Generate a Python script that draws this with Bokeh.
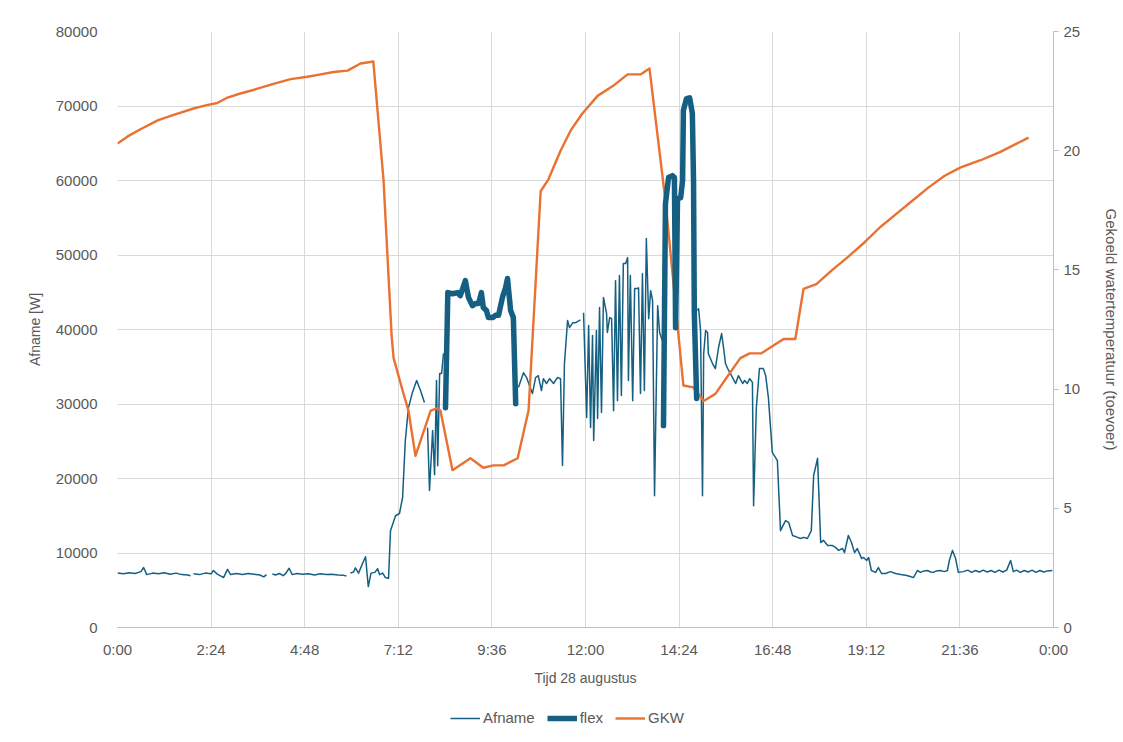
import math
from bokeh.plotting import figure
from bokeh.layouts import column
from bokeh.models import Range1d, LinearAxis, FixedTicker, Legend, LegendItem, NumeralTickFormatter
from bokeh.embed import file_html
from bokeh.resources import INLINE

nan = float("nan")

# ---------------- data (time in hours of 28 August) ----------------
x_ticks = [0, 2.4, 4.8, 7.2, 9.6, 12.0, 14.4, 16.8, 19.2, 21.6, 24.0]
x_tick_labels = ["0:00", "2:24", "4:48", "7:12", "9:36", "12:00", "14:24", "16:48", "19:12", "21:36", "0:00"]
y_ticks = [0, 10000, 20000, 30000, 40000, 50000, 60000, 70000, 80000]
y2_ticks = [0, 5, 10, 15, 20, 25]

# Afname [W] (nan = gap in the measurement)
afname_t = (
    [0.00, 0.15, 0.30, 0.45, 0.60, 0.67, 0.75, 0.90, 1.05, 1.20, 1.35, 1.50, 1.65, 1.80, 1.87, 1.91]
    + [1.95, 2.10, 2.25, 2.40, 2.46, 2.55, 2.72, 2.82, 2.90, 3.05, 3.20, 3.35, 3.50, 3.65, 3.75, 3.82, 3.90]
    + [3.97, 4.05, 4.15, 4.25, 4.32, 4.40, 4.48, 4.60, 4.75, 4.90, 5.05, 5.20, 5.35, 5.50, 5.65, 5.80, 5.87, 5.92]
    + [5.97, 6.05, 6.10, 6.18, 6.30, 6.36, 6.43, 6.50, 6.60, 6.67, 6.72, 6.80, 6.87, 6.95, 7.00, 7.13,
       7.23, 7.31, 7.38, 7.46, 7.56, 7.67, 7.77, 7.87, 7.91]
    + [7.95, 8.00, 8.08, 8.13, 8.18, 8.21, 8.26, 8.31, 8.36, 8.38]
    + [10.28, 10.41, 10.49, 10.56, 10.64, 10.72, 10.79, 10.87, 10.92, 11.00, 11.08, 11.18, 11.28, 11.36,
       11.41, 11.46, 11.54, 11.59, 11.67, 11.74, 11.87, 11.91]
    + [11.95, 12.03, 12.08, 12.13, 12.18, 12.21, 12.28, 12.31, 12.36, 12.41, 12.46, 12.54, 12.56, 12.62,
       12.67, 12.72, 12.77, 12.82, 12.87, 12.92, 12.97, 13.03, 13.08, 13.10, 13.15, 13.21, 13.26, 13.33,
       13.36, 13.41, 13.46, 13.51, 13.56, 13.62, 13.67, 13.72, 13.77, 13.85, 13.90, 13.97, 13.99]
    + [14.87, 14.90, 14.95, 15.00, 15.03, 15.08, 15.13, 15.15, 15.26, 15.33,
       15.41, 15.49, 15.54, 15.59, 15.67, 15.77, 15.85, 15.92, 16.03, 16.08,
       16.15, 16.21, 16.28, 16.31, 16.38, 16.46, 16.56, 16.62, 16.69, 16.79,
       16.92, 17.00, 17.13, 17.21, 17.31, 17.44, 17.51, 17.59, 17.69, 17.79,
       17.85, 17.95, 18.03, 18.10, 18.21, 18.33, 18.41, 18.49, 18.59, 18.64,
       18.74, 18.82, 18.90, 18.97, 19.08, 19.13, 19.21, 19.26, 19.33, 19.44,
       19.51, 19.59, 19.69, 19.82, 19.95, 20.08, 20.21, 20.33, 20.41, 20.51,
       20.59, 20.68, 20.77, 20.85, 20.92, 21.00, 21.10, 21.20, 21.28, 21.33,
       21.41, 21.49, 21.56, 21.69, 21.80, 21.90, 22.00, 22.10, 22.20, 22.30,
       22.40, 22.50, 22.60, 22.70, 22.80, 22.90, 22.97, 23.05, 23.15, 23.25,
       23.35, 23.45, 23.55, 23.65, 23.75, 23.85, 23.97]
)
afname_w = (
    [7300, 7200, 7350, 7250, 7500, 8050, 7100, 7300, 7200, 7350, 7150, 7300, 7100, 7050, 6950, nan]
    + [7200, 7100, 7300, 7200, 7650, 7200, 6700, 7800, 7100, 7250, 7100, 7250, 7150, 7050, 6800, 7100, nan]
    + [7200, 7050, 7250, 6950, 7300, 7950, 7100, 7250, 7150, 7200, 7050, 7200, 7100, 7150, 7050, 7000, 6900, nan]
    + [7300, 7450, 8000, 7300, 8800, 9500, 5500, 7300, 7400, 7900, 7100, 7300, 6700, 6600, 13000, 15000,
       15300, 17450, 25100, 29500, 31500, 33150, 31800, 30200, nan]
    + [26800, 18400, 26450, 20500, 33150, 21700, 34100, 34100, 36800, nan]
    + [32200, 34200, 33550, 32500, 31400, 33550, 33800, 31800, 33400, 32750, 33400, 32750, 33550, 33400,
       21750, 35400, 41200, 40250, 40900, 40900, 41300, nan]
    + [42250, 28200, 40550, 26850, 39200, 25100, 39850, 28050, 42950, 28850, 44300, 42150, 39600, 41600,
       41450, 29100, 46550, 30450, 47250, 31150, 48850, 48850, 49650, 33150, 47250, 30450, 45500, 45500,
       45600, 31400, 47500, 31800, 52200, 41450, 45200, 43900, 17700, 43200, 39600, 38500, nan]
    + [42550, 42800, 39850, 17700, 36750, 39850, 39600, 36750, 35400, 34750,
       37550, 39450, 37550, 35400, 34500, 33550, 32750, 33800, 32750, 33150,
       32750, 33400, 32900, 16350, 29500, 34750, 34750, 33800, 30850, 23500,
       22400, 13000, 14350, 14100, 12350, 12100, 11950, 12100, 11950, 13000,
       20400, 22700, 11400, 11700, 11000, 11000, 10750, 10350, 10600, 10050,
       12350, 11400, 10050, 10600, 9250, 9400, 9000, 9400, 7650, 7400,
       8050, 7250, 7250, 7500, 7250, 7100, 7000, 6850, 6700, 7650,
       7400, 7600, 7650, 7450, 7400, 7600, 7650, 7500, 7650, 9000,
       10350, 9250, 7400, 7500, 7700, 7400, 7650, 7450, 7700, 7450,
       7650, 7400, 7700, 7450, 7700, 9000, 7500, 7700, 7400, 7650,
       7450, 7700, 7400, 7650, 7450, 7600, 7650]
)

# flex [W]
flex_t = ([8.41, 8.47, 8.59, 8.72, 8.79, 8.92, 9.00, 9.10, 9.18, 9.26, 9.33, 9.38, 9.46, 9.51, 9.62,
           9.69, 9.77, 9.87, 9.95, 10.00, 10.08, 10.15, 10.21, 12.0]
          + [14.00, 14.05, 14.13, 14.23, 14.28, 14.31, 14.36, 14.44, 14.49, 14.51, 14.59, 14.67, 14.74,
             14.77, 14.79, 14.85])
flex_w = ([29500, 44950, 44800, 44950, 44550, 46550, 44300, 43200, 43500, 43500, 44950, 42950, 42550,
           41600, 41600, 41900, 41900, 44300, 45600, 46850, 42550, 41600, 30050, nan]
          + [27100, 56900, 60400, 60650, 60400, 40250, 57550, 57700, 60000, 69400, 71000, 71100, 69000,
             60000, 42150, 30750])

# GKW: gekoeld watertemperatuur (toevoer) [°C]
gkw_t = [0.00, 0.26, 0.59, 1.03, 1.44, 1.95, 2.26, 2.56, 2.82, 3.15,
         3.59, 4.00, 4.44, 4.87, 5.21, 5.54, 5.90, 6.23, 6.56, 6.82,
         7.03, 7.08, 7.31, 7.46, 7.64, 8.03, 8.21, 8.28, 8.59, 9.05,
         9.38, 9.64, 9.90, 10.26, 10.54, 10.85, 11.05, 11.36, 11.62, 11.92,
         12.31, 12.69, 13.08, 13.41, 13.64, 14.05, 14.51, 14.77, 15.03, 15.33,
         15.67, 15.97, 16.21, 16.51, 16.79, 17.08, 17.38, 17.59, 17.92, 18.33,
         18.74, 19.15, 19.56, 19.97, 20.38, 20.79, 21.21, 21.62, 22.13, 22.64,
         23.36]
gkw_c = [20.3, 20.6, 20.9, 21.27, 21.5, 21.77, 21.9, 22.0, 22.23, 22.4,
         22.6, 22.8, 23.0, 23.1, 23.2, 23.3, 23.36, 23.66, 23.74, 18.8,
         12.2, 11.3, 9.94, 9.1, 7.2, 9.1, 9.2, 9.1, 6.6, 7.1,
         6.7, 6.8, 6.8, 7.1, 9.1, 18.3, 18.8, 20.0, 20.85, 21.56,
         22.3, 22.7, 23.2, 23.2, 23.45, 17.9, 10.15, 10.07, 9.5, 9.8,
         10.6, 11.3, 11.5, 11.5, 11.8, 12.1, 12.1, 14.2, 14.4, 15.0,
         15.56, 16.15, 16.8, 17.35, 17.9, 18.45, 18.95, 19.3, 19.6, 19.95,
         20.55]

series_names = ["Afname", "flex", "GKW"]

# ---------------- styling ----------------
FONT = "Liberation Sans"
TXT = "#595959"
GRID = "#d9d9d9"
AXIS = "#bfbfbf"
BLUE = "#156082"
ORANGE = "#E97132"
STYLE = {"Afname": dict(line_color=BLUE, line_width=1.5),
         "flex": dict(line_color=BLUE, line_width=5.5),
         "GKW": dict(line_color=ORANGE, line_width=2.4)}

W = 1123
p = figure(width=W, height=696, output_backend="svg", toolbar_location=None,
           x_range=Range1d(0, 24), y_range=Range1d(0, 80000),
           min_border_left=117, min_border_right=70, min_border_top=31, min_border_bottom=69)
p.extra_y_ranges = {"temp": Range1d(0, 25)}
p.outline_line_color = None
p.background_fill_color = "white"
p.border_fill_color = "white"

# x axis
xa = p.xaxis[0]
xa.ticker = FixedTicker(ticks=x_ticks)
xa.major_label_overrides = {t: lab for t, lab in zip(x_ticks, x_tick_labels)}
xa.axis_label = "Tijd 28 augustus"
xa.axis_line_color = AXIS
xa.major_tick_line_color = None
xa.minor_tick_line_color = None
xa.major_label_standoff = 7
xa.axis_label_standoff = 9

# left axis
ya = p.yaxis[0]
ya.ticker = FixedTicker(ticks=y_ticks)
ya.formatter = NumeralTickFormatter(format="0")
ya.axis_label = "Afname [W]"
ya.axis_line_color = None
ya.major_tick_line_color = None
ya.minor_tick_line_color = None
ya.major_label_standoff = 14
ya.axis_label_standoff = 10

# right axis
ra = LinearAxis(y_range_name="temp", ticker=FixedTicker(ticks=y2_ticks),
                axis_label="Gekoeld watertemperatuur (toevoer)")
ra.axis_line_color = AXIS
ra.major_tick_line_color = AXIS
ra.major_tick_out = 5
ra.major_tick_in = 0
ra.minor_tick_line_color = None
ra.major_label_standoff = 5
ra.axis_label_standoff = 20
p.add_layout(ra, "right")

for ax in (xa, ya, ra):
    ax.major_label_text_font = FONT
    ax.major_label_text_font_size = "15px"
    ax.major_label_text_color = TXT
    ax.axis_label_text_font = FONT
    ax.axis_label_text_font_size = "14px"
    ax.axis_label_text_color = TXT
    ax.axis_label_text_font_style = "normal"
ra.axis_label_text_font_size = "15px"

p.xgrid[0].ticker = FixedTicker(ticks=x_ticks)
p.ygrid[0].ticker = FixedTicker(ticks=y_ticks)
p.xgrid[0].grid_line_color = GRID
p.ygrid[0].grid_line_color = GRID

p.line(afname_t, afname_w, line_join="round", **STYLE["Afname"])
p.line(gkw_t, gkw_c, y_range_name="temp", line_join="round", **STYLE["GKW"])
p.line(flex_t, flex_w, line_join="round", line_cap="round", **STYLE["flex"])

# ---------------- legend strip below the chart ----------------
pl = figure(width=W, height=44, output_backend="svg", toolbar_location=None,
            x_range=Range1d(0, 1), y_range=Range1d(0, 1),
            min_border=0, x_axis_type=None, y_axis_type=None)
pl.outline_line_color = None
pl.grid.visible = False
items = []
for name in series_names:
    r = pl.line([nan], [nan], **STYLE[name])  # legend swatch only, nothing drawn in the strip
    items.append(LegendItem(label=name, renderers=[r]))
legend = Legend(items=items, orientation="horizontal", location=(333, 14),
                label_text_font=FONT, label_text_font_size="15px", label_text_color=TXT,
                glyph_width=30, glyph_height=16, label_height=16, label_standoff=3, spacing=12,
                border_line_color=None, background_fill_alpha=0, margin=0, padding=4)
pl.add_layout(legend, "center")

open("out.html", "w").write(file_html(column(p, pl, spacing=0), INLINE))
